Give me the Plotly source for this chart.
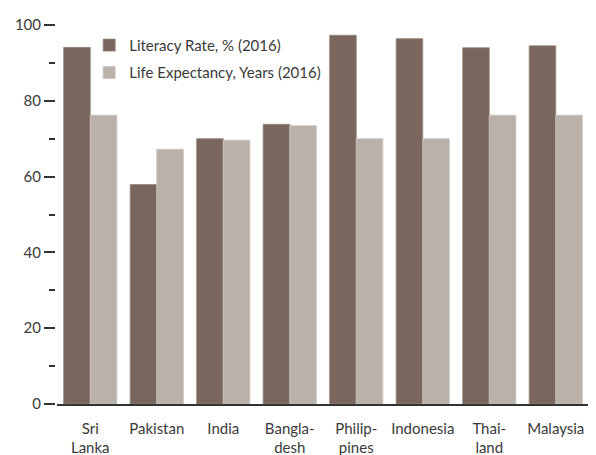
import plotly.graph_objects as go

categories = ["Sri<br>Lanka", "Pakistan", "India", "Bangla-<br>desh", "Philip-<br>pines",
              "Indonesia", "Thai-<br>land", "Malaysia"]
literacy = [94.1, 57.9, 70.0, 73.8, 97.3, 96.4, 94.0, 94.5]
life_exp = [76.2, 67.2, 69.6, 73.4, 70.0, 70.0, 76.2, 76.2]
y_ticks = [0, 20, 40, 60, 80, 100]

FONT = "Lato, 'DejaVu Sans', sans-serif"
TXT = "#3a3a3a"

fig = go.Figure()
fig.add_trace(go.Bar(x=categories, y=literacy, name="Literacy Rate, % (2016)",
                     legendgroup="a",
                     marker=dict(color="#7a665c", line=dict(width=0.8, color="#94857c"))))
fig.add_trace(go.Bar(x=categories, y=life_exp, name="Life Expectancy, Years (2016)",
                     legendgroup="b",
                     marker=dict(color="#bab1ab", line=dict(width=0.8, color="#cbc4bf"))))

fig.update_layout(
    width=596, height=455,
    margin=dict(l=47, r=15, t=7, b=56),
    paper_bgcolor="white", plot_bgcolor="white",
    barmode="group", bargap=0.2, bargroupgap=0,
    font=dict(family=FONT, size=15, color=TXT),
    showlegend=True,
    legend=dict(x=0.064, y=1 - 4/392, xanchor="left", yanchor="top",
                bgcolor="rgba(0,0,0,0)", font=dict(size=15, color=TXT),
                traceorder="grouped", tracegroupgap=5),
    xaxis=dict(domain=[2/534, 1], showline=True, linecolor="#333", linewidth=1.5,
               ticks="", showgrid=False, zeroline=False,
               ticklabelstandoff=10,
               tickfont=dict(size=15, color=TXT)),
    yaxis=dict(anchor="free", position=0, range=[0, 100],
               tickvals=y_ticks, ticks="outside", ticklen=11, tickwidth=1.5,
               tickcolor="#333", showline=False, showgrid=False, zeroline=False,
               ticklabeloverflow="allow",
               minor=dict(dtick=10, ticks="outside", ticklen=6, tickwidth=1.5,
                          tickcolor="#333", showgrid=False),
               tickfont=dict(size=15, color=TXT)),
)

fig.write_html("out.html")
